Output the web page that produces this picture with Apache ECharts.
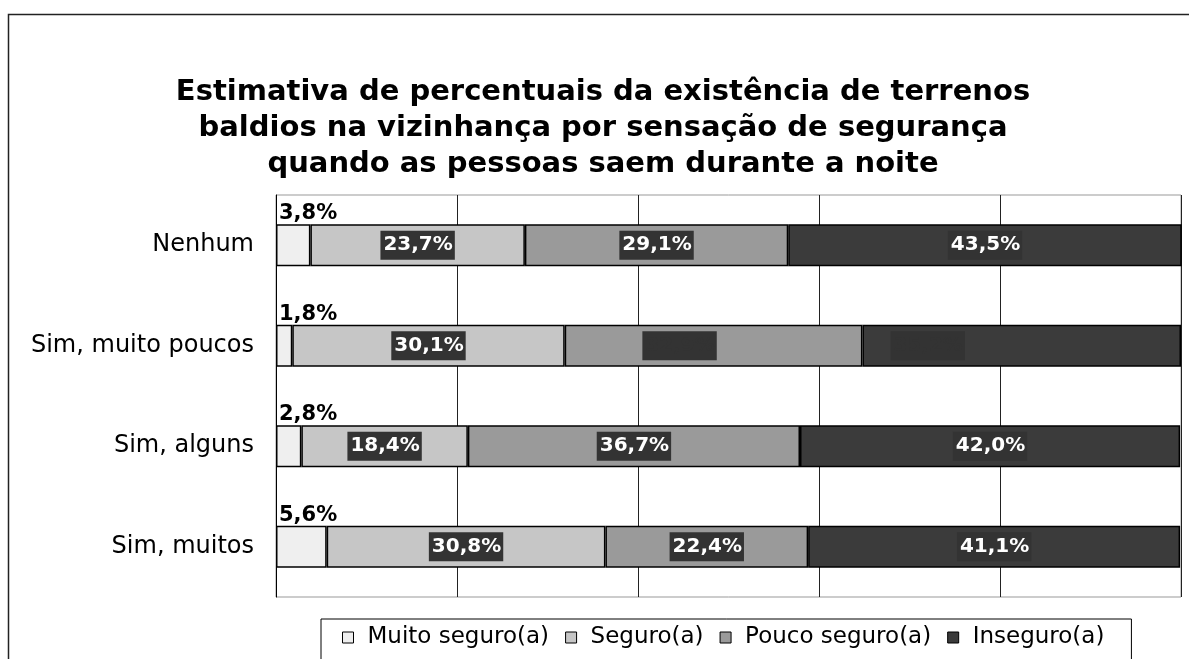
<!DOCTYPE html>
<html>
<head>
<meta charset="utf-8">
<script src="https://cdn.jsdelivr.net/npm/echarts@6/dist/echarts.min.js"></script>
<style>
  html, body { margin: 0; padding: 0; background: #fff; }
  #chart { width: 1189px; height: 659px; }
</style>
</head>
<body>
<div id="chart"></div>
<script>
// categories (top to bottom) and percentages per safety feeling
const categories = ['Nenhum', 'Sim, muito poucos', 'Sim, alguns', 'Sim, muitos'];
const muitoSeguro = [3.8, 1.8, 2.8, 5.6];
const seguro = [23.7, 30.1, 18.4, 30.8];
const poucoSeguro = [29.1, 32.9, 36.7, 22.4];
const inseguro = [43.5, 35.2, 42.0, 41.1];
const seriesNames = ['Muito seguro(a)', 'Seguro(a)', 'Pouco seguro(a)', 'Inseguro(a)'];
const xTicks = [0, 20, 40, 60, 80, 100];

const fmt = p => p.value.toFixed(1).replace('.', ',') + '%';
const font = 'DejaVu Sans, Verdana, sans-serif';

// inner label: white bold text on dark box
const boxLabel = {
  show: true,
  position: 'inside',
  formatter: fmt,
  color: '#fff',
  fontFamily: font,
  fontWeight: 'bold',
  fontSize: 20,
  backgroundColor: '#333',
  padding: [5, 2, 4, 3]
};

// in the picture the labels of row 2 show only the dark box
function hiddenRow(values, offsetX) {
  return values.map((v, i) => i === 1
    ? { value: v, label: { color: '#333', offset: [offsetX, 0] } }
    : v);
}

function bar(name, data, color, label) {
  return {
    name: name,
    type: 'bar',
    stack: 'total',
    barWidth: 42,
    data: data,
    itemStyle: { color: color, borderColor: '#000', borderWidth: 1.5 },
    label: label
  };
}

const chart = echarts.init(document.getElementById('chart'));
chart.setOption({
  backgroundColor: '#fff',
  animation: false,
  title: {
    text: 'Estimativa de percentuais da existência de terrenos\nbaldios na vizinhança por sensação de segurança\nquando as pessoas saem durante a noite',
    left: 598,
    textAlign: 'center',
    top: 69,
    textStyle: {
      fontFamily: font,
      fontWeight: 'bold',
      fontSize: 29,
      lineHeight: 36,
      color: '#000'
    }
  },
  legend: {
    top: 619,
    left: 321,
    data: seriesNames,
    itemWidth: 11,
    itemHeight: 11,
    itemGap: 16,
    padding: [7, 27, 30, 21],
    borderColor: '#000',
    borderWidth: 1,
    icon: 'rect',
    itemStyle: { borderColor: '#000', borderWidth: 1 },
    textStyle: { fontFamily: font, fontSize: 23, color: '#000', padding: [0, 0, 0, 9] }
  },
  grid: {
    left: 276,
    right: 8,
    top: 195,
    bottom: 62,
    show: true,
    borderColor: '#999',
    borderWidth: 1
  },
  xAxis: {
    type: 'value',
    min: xTicks[0],
    max: xTicks[xTicks.length - 1],
    interval: 20,
    axisLabel: { show: false },
    axisLine: { show: false },
    axisTick: { show: false },
    splitLine: { lineStyle: { color: '#222', width: 1 } }
  },
  yAxis: {
    type: 'category',
    inverse: true,
    data: categories,
    axisLine: { lineStyle: { color: '#000', width: 1 } },
    axisTick: { length: 8, lineStyle: { color: '#000' } },
    axisLabel: { fontFamily: font, fontSize: 24, color: '#000', margin: 22 }
  },
  series: [
    bar(seriesNames[0], muitoSeguro, '#efefef', {
      show: true,
      position: [0, 0],
      align: 'left',
      verticalAlign: 'bottom',
      offset: [3, 0],
      formatter: fmt,
      color: '#000',
      fontFamily: font,
      fontWeight: 'bold',
      fontSize: 21
    }),
    bar(seriesNames[1], seguro, '#c6c6c6', boxLabel),
    bar(seriesNames[2], hiddenRow(poucoSeguro, -34), '#9a9a9a', boxLabel),
    bar(seriesNames[3], hiddenRow(inseguro, -94), '#3b3b3b', boxLabel)
  ],
  graphic: [{
    type: 'rect',
    shape: { x: 8.5, y: 14.5, width: 1200, height: 700 },
    style: { fill: 'none', stroke: '#222', lineWidth: 1.5 },
    silent: true
  }]
});
</script>
</body>
</html>
